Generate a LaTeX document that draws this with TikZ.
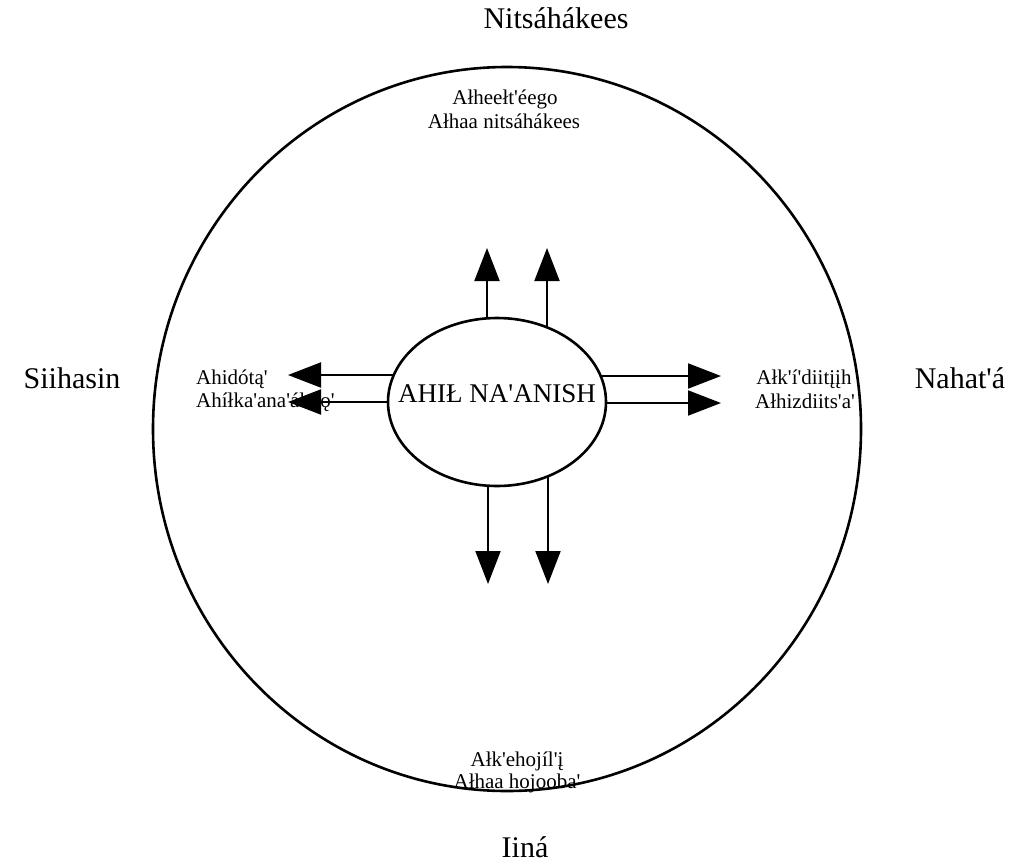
\documentclass[tikz,border=0pt]{standalone}
\usepackage{fontspec}
\newfontfamily\nv{Liberation Serif}
\usetikzlibrary{shapes.geometric,arrows.meta,backgrounds}
\tikzset{
  outer/.style={font=\nv\fontsize{30}{34}\selectfont, inner sep=0pt},
  inner/.style={font=\nv\fontsize{21}{25}\selectfont, inner sep=0pt},
  ring/.style={draw, line width=2.6pt, ellipse, inner sep=0pt},
  arr/.style={line width=2pt, -{Triangle[length=33pt,width=25pt]}}
}
\begin{document}
\begin{tikzpicture}[x=1pt,y=-1pt]
\useasboundingbox (0,0) rectangle (1032,865);

% outer circle and centre
\node[ring, minimum width=708pt, minimum height=724pt] (world) at (507,429) {};
\node[ring, fill=white, minimum width=218pt, minimum height=168pt] (core) at (497,402) {};
\node[font=\nv\fontsize{27}{31}\selectfont, inner sep=0pt] (coretext) at ([yshift=8pt]core.center) {AHIŁ NA'ANISH};

% arrow tips
\coordinate (u1) at (487,248);
\coordinate (u2) at (547,248);
\coordinate (d1) at (488,584);
\coordinate (d2) at (548,584);
\coordinate (l1) at (288,375);
\coordinate (l2) at (288,402);
\coordinate (r1) at (721,376);
\coordinate (r2) at (721,403);

\begin{pgfonlayer}{background}
  \draw[arr] (core.center -| u1) -- (u1);
  \draw[arr] (core.center -| u2) -- (u2);
  \draw[arr] (core.center -| d1) -- (d1);
  \draw[arr] (core.center -| d2) -- (d2);
  \draw[arr] (core.center |- l1) -- (l1);
  \draw[arr] (core.center |- l2) -- (l2);
  \draw[arr] (core.center |- r1) -- (r1);
  \draw[arr] (core.center |- r2) -- (r2);
\end{pgfonlayer}

% four directions
\node[outer, anchor=base] (north) at (556,28) {Nitsáhákees};
\node[outer, anchor=base] (south) at (525,857) {Iiná};
\node[outer, anchor=base] (west)  at (72,388) {Siihasin};
\node[outer, anchor=base] (east)  at (960,388) {Nahat'á};

% labels inside the circle
\node[inner, anchor=base] (n1) at (505,104) {Ałheełt'éego};
\node[inner, anchor=base] (n2) at (504,128) {Ałhaa nitsáhákees};
\node[inner, anchor=base west] (w1) at (196,384) {Ahidótą'};
\node[inner, anchor=base west] (w2) at (196,407) {Ahíłka'ana'álwǫ'};
\node[inner, anchor=base] (e1) at (804,384) {Ałk'í'diitįįh};
\node[inner, anchor=base] (e2) at (805,408) {Ałhizdiits'a'};
\node[inner, anchor=base] (s1) at (517,766) {Ałk'ehojíl'į};
\node[inner, anchor=base] (s2) at (517,788) {Ałhaa hojooba'};
\end{tikzpicture}
\end{document}
